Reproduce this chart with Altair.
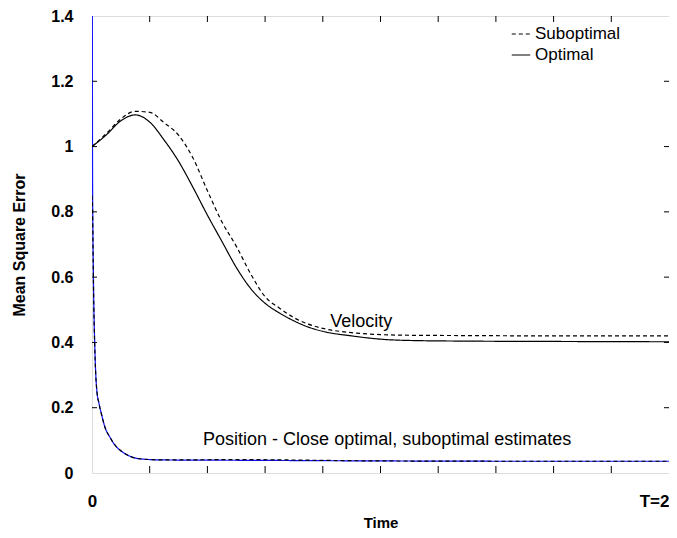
import altair as alt
import pandas as pd

# ---- data ----
vel_t = [0, 0.05, 0.1, 0.15, 0.2, 0.25, 0.3, 0.35, 0.4, 0.45, 0.5, 0.55, 0.6, 0.65, 0.7, 0.75, 0.8, 0.9, 1.0, 1.1, 1.3, 1.6, 2.0]
vel_opt = [1.0, 1.036, 1.079, 1.097, 1.075, 1.02, 0.955, 0.875, 0.79, 0.71, 0.63, 0.565, 0.52, 0.49, 0.466, 0.447, 0.434, 0.42, 0.41, 0.406, 0.404, 0.403, 0.402]
vel_sub = [1.0, 1.04, 1.085, 1.108, 1.105, 1.073, 1.035, 0.965, 0.865, 0.77, 0.695, 0.61, 0.54, 0.505, 0.476, 0.456, 0.443, 0.43, 0.424, 0.422, 0.421, 0.42, 0.42]

pos_t = [0, 0.002, 0.005, 0.01, 0.016, 0.025, 0.033, 0.045, 0.062, 0.08, 0.106, 0.13, 0.17, 0.25, 0.5, 1.0, 1.5, 2.0]
pos_opt = [3.0, 0.9, 0.6, 0.38, 0.26, 0.21, 0.18, 0.14, 0.11, 0.085, 0.064, 0.052, 0.043, 0.04, 0.039, 0.037, 0.036, 0.036]
pos_sub = [0.85, 0.8, 0.58, 0.37, 0.26, 0.21, 0.18, 0.14, 0.11, 0.085, 0.064, 0.052, 0.043, 0.04, 0.041, 0.037, 0.036, 0.036]

series_names = ["Suboptimal", "Optimal"]
y_ticks = [0, 0.2, 0.4, 0.6, 0.8, 1, 1.2, 1.4]
x_label_vals = [0, 2]
x_label_texts = ["0", "T=2"]
x_minor = [0.2, 0.4, 0.6, 0.8, 1.0, 1.2, 1.4, 1.6, 1.8]
y_minor = [0.2, 0.4, 0.6, 0.8, 1.0, 1.2]

ann_text = ["Velocity", "Position - Close optimal, suboptimal estimates"]
ann_t = [0.826, 0.385]
ann_v = [0.447, 0.085]

# ---- build tables ----
rows = []
for t, v in zip(pos_t, pos_opt):
    rows.append(dict(t=t, v=v, series="Optimal", qty="Position", col="#1010ff", order=2))
for t, v in zip(pos_t, pos_sub):
    rows.append(dict(t=t, v=v, series="Suboptimal", qty="Position", col="black", order=3))
for t, v in zip(vel_t, vel_opt):
    rows.append(dict(t=t, v=v, series="Optimal", qty="Velocity", col="black", order=0))
for t, v in zip(vel_t, vel_sub):
    rows.append(dict(t=t, v=v, series="Suboptimal", qty="Velocity", col="black", order=1))
df = pd.DataFrame(rows)
df["key"] = df["qty"] + "-" + df["series"]

FONT = "Liberation Sans"
W, H = 577, 457
xscale = alt.Scale(domain=[0, 2], nice=False, zero=False)
yscale = alt.Scale(domain=[0, 1.4], nice=False)

label_expr = " : ".join(
    [f"datum.value == {v} ? '{s}'" for v, s in zip(x_label_vals[:-1], x_label_texts[:-1])]
) + f" : '{x_label_texts[-1]}'"

lines = alt.Chart(df).mark_line(clip=True, strokeWidth=1.2, interpolate="monotone").encode(
    x=alt.X("t:Q", scale=xscale, title="Time",
            axis=alt.Axis(values=x_label_vals, labelExpr=label_expr, ticks=False, grid=False, domain=False,
                          labelFont=FONT, labelFontSize=17, labelFontWeight="bold", labelPadding=20,
                          labelAlign={"condition": {"test": "datum.value == 2", "value": "right"}, "value": "center"},
                          titleFont=FONT, titleFontSize=15, titleFontWeight="bold", titlePadding=6)),
    y=alt.Y("v:Q", scale=yscale, title="Mean Square Error",
            axis=alt.Axis(values=y_ticks, format="~g", ticks=False, grid=False, domain=False,
                          labelFont=FONT, labelFontSize=16, labelFontWeight="bold", labelPadding=19,
                          titleFont=FONT, titleFontSize=16, titleFontWeight="bold", titlePadding=23)),
    detail="key:N",
    order="order:Q",
    color=alt.Color("col:N", scale=None),
    strokeDash=alt.StrokeDash("series:N",
                              scale=alt.Scale(domain=series_names, range=[[4, 3], [1, 0]]),
                              legend=alt.Legend(title=None, orient="none", legendX=419, legendY=8,
                                                symbolType="stroke", symbolSize=340, symbolStrokeColor="black",
                                                symbolStrokeWidth=1.2, labelFont=FONT, labelFontSize=17,
                                                labelOffset=4, rowPadding=3, padding=0)),
)

xt = pd.DataFrame({"t": x_minor})
yt = pd.DataFrame({"v": y_minor})
tick_bot = alt.Chart(xt).mark_rule(color="black").encode(x=alt.X("t:Q", scale=xscale), y=alt.value(H), y2=alt.value(H - 7))
tick_top = alt.Chart(xt).mark_rule(color="black").encode(x=alt.X("t:Q", scale=xscale), y=alt.value(0), y2=alt.value(6))
tick_l = alt.Chart(yt).mark_rule(color="black").encode(y=alt.Y("v:Q", scale=yscale), x=alt.value(0), x2=alt.value(5))
tick_r = alt.Chart(yt).mark_rule(color="black").encode(y=alt.Y("v:Q", scale=yscale), x=alt.value(W), x2=alt.value(W - 5))

ann = pd.DataFrame({"text": ann_text, "t": ann_t, "v": ann_v})
texts = alt.Chart(ann).mark_text(align="left", baseline="alphabetic", font=FONT, fontSize=18, color="black").encode(
    x=alt.X("t:Q", scale=xscale), y=alt.Y("v:Q", scale=yscale), text="text:N")

chart = alt.layer(lines, tick_bot, tick_top, tick_l, tick_r, texts).properties(
    width=W, height=H,
    autosize=alt.AutoSizeParams(type="none"),
    padding={"left": 84, "top": 8, "right": 0, "bottom": 63},
).configure_view(stroke="black", strokeWidth=1).configure(background="white")

chart.save("out.html", embed_options={"renderer": "svg", "actions": False})
